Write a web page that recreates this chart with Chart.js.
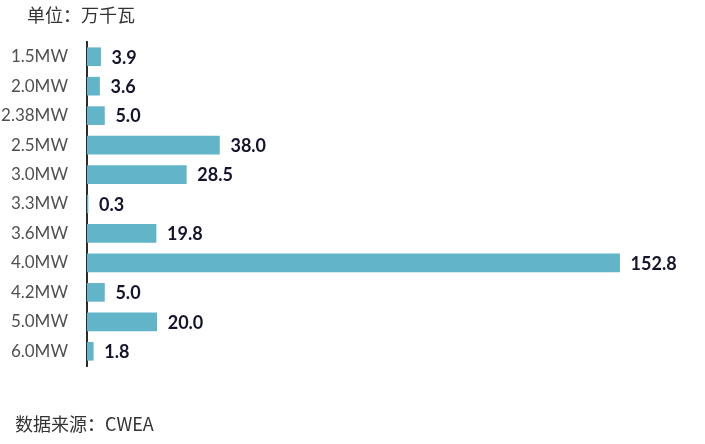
<!DOCTYPE html>
<html>
<head>
<meta charset="utf-8">
<script src="https://cdn.jsdelivr.net/npm/chart.js@4"></script>
<style>
  body { margin: 0; background: #ffffff; }
</style>
</head>
<body>
<canvas id="capacity-chart" width="705" height="444"></canvas>
<script>
// ---------------------------------------------------------------------------------------
// Daten

var categories = ["1.5MW", "2.0MW", "2.38MW", "2.5MW", "3.0MW", "3.3MW", "3.6MW", "4.0MW", "4.2MW", "5.0MW", "6.0MW"];
var values = [3.9, 3.6, 5.0, 38.0, 28.5, 0.3, 19.8, 152.8, 5.0, 20.0, 1.8];
var unitText = "单位：万千瓦";
var sourceText = "数据来源：CWEA";

// ---------------------------------------------------------------------------------------
// Texte + Wertelabels

var textPlugin = {
  id: 'textPlugin',
  afterDatasetsDraw: function(chart) {
    var ctx = chart.ctx;
    var meta = chart.getDatasetMeta(0);
    ctx.save();
    ctx.font = "bold 18px Lato, 'Open Sans', sans-serif";
    ctx.fillStyle = "#14142e";
    ctx.textBaseline = "middle";
    ctx.textAlign = "left";
    meta.data.forEach(function(bar, i) {
      ctx.fillText(values[i].toFixed(1), bar.x + 11, bar.y + 1);
    });
    ctx.font = "18px 'Noto Sans CJK SC', sans-serif";
    ctx.fillStyle = "#333333";
    ctx.textBaseline = "middle";
    ctx.fillText(unitText, 27, 15);
    ctx.fillText(sourceText, 15, 424);
    ctx.restore();
  }
};

new Chart(document.getElementById("capacity-chart"), {
    type: 'bar',
    data: {
      labels: categories,
      datasets: [
        {
          label: "装机容量",
          backgroundColor: "#62b4c8",
          borderWidth: 0,
          barThickness: 18,
          data: values
        }
      ]
    },
    options: {
      indexAxis: 'y',
      responsive: false,
      animation: false,
      layout: {
        padding: {top: 42, bottom: 78, left: 0, right: 15}
      },
      scales: {
        x: {
          display: false,
          min: 0,
          max: 173
        },
        y: {
          grid: {display: false},
          border: {display: true, color: "#2b2b2b", width: 2},
          ticks: {
            color: "#505050",
            font: {size: 17, family: "Lato, 'Open Sans', sans-serif"},
            padding: 11
          },
          afterFit: function(scale) { scale.width = 87; }
        }
      },
      plugins: {
        legend: {display: false},
        tooltip: {enabled: false}
      }
    },
    plugins: [textPlugin]
});
</script>
</body>
</html>
